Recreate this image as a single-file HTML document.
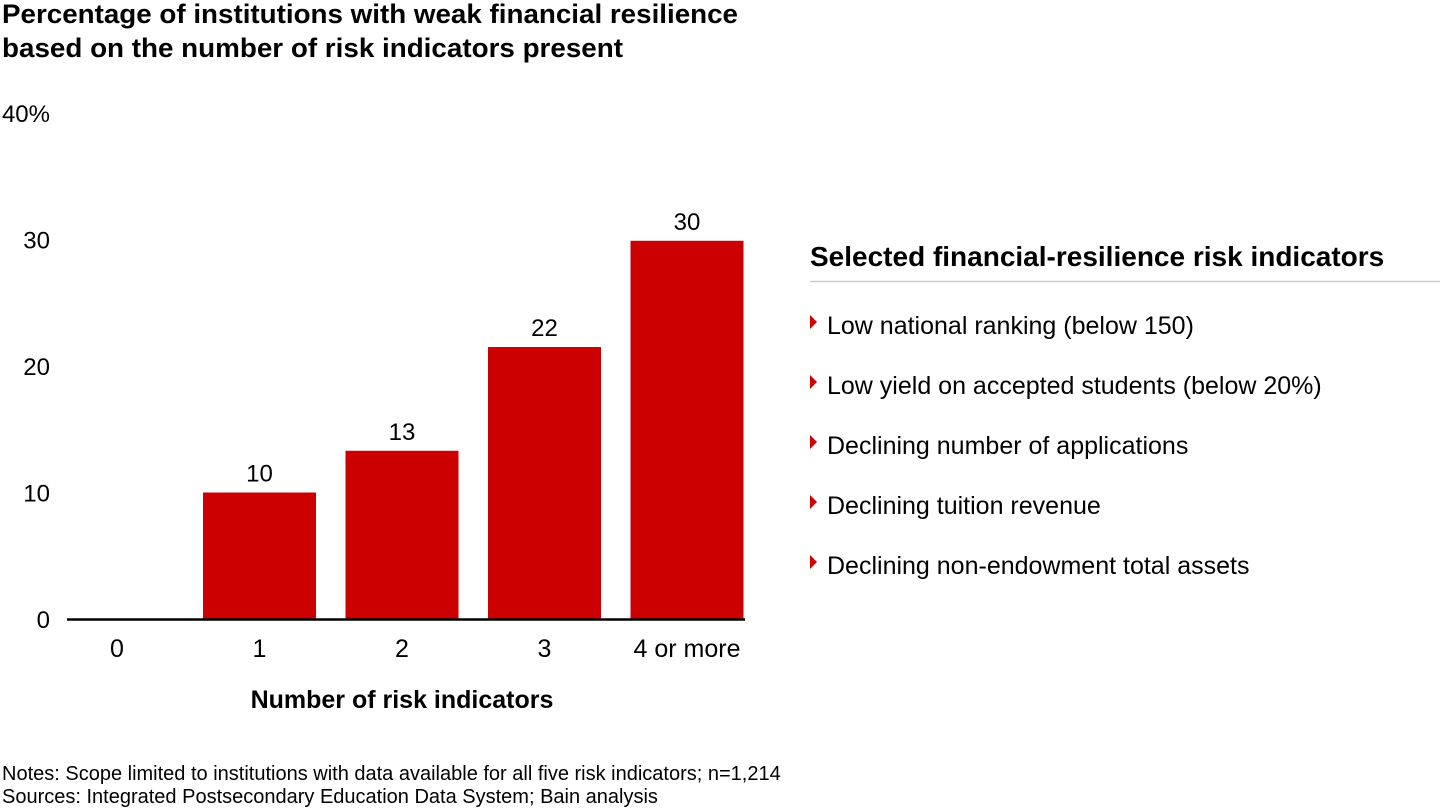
<!DOCTYPE html>
<html><head><meta charset="utf-8"><style>
html,body{margin:0;padding:0;background:#fff;width:1440px;height:810px;overflow:hidden;font-family:"Liberation Sans",Arial,sans-serif;color:#000}
</style></head><body>
<svg width="1440" height="810" xmlns="http://www.w3.org/2000/svg" font-family="Liberation Sans, Arial, sans-serif">
<text x="2" y="23" font-size="27" font-weight="bold" textLength="736" lengthAdjust="spacingAndGlyphs">Percentage of institutions with weak financial resilience</text>
<text x="2" y="57" font-size="27" font-weight="bold" textLength="621" lengthAdjust="spacingAndGlyphs">based on the number of risk indicators present</text>
<g id="yticks"></g>
<g id="bars"></g>
<line x1="67" x2="745" y1="619.5" y2="619.5" stroke="#000" stroke-width="2.5"/>
<text x="402" y="708" font-size="25" font-weight="bold" text-anchor="middle">Number of risk indicators</text>
<g>
<text x="810" y="266" font-size="28" font-weight="bold">Selected financial-resilience risk indicators</text>
<line x1="810" x2="1440" y1="281.5" y2="281.5" stroke="#ccc" stroke-width="1.5"/>
<g id="legend-items"></g>
</g>
<text x="2" y="780" font-size="20">Notes: Scope limited to institutions with data available for all five risk indicators; n=1,214</text>
<text x="2" y="803" font-size="20">Sources: Integrated Postsecondary Education Data System; Bain analysis</text>
</svg>
<script>
const categories = ["0","1","2","3","4 or more"];
const values = [0, 10, 13.3, 21.5, 29.9];
const valueLabels = ["", "10", "13", "22", "30"];
const yTicks = [0, 10, 20, 30, 40];
const yTickLabels = ["0","10","20","30","40%"];
const legendItems = ["Low national ranking (below 150)","Low yield on accepted students (below 20%)","Declining number of applications","Declining tuition revenue","Declining non-endowment total assets"];

const NS = "http://www.w3.org/2000/svg";
const y0 = 619, pxPerUnit = 12.65;
function yScale(v){ return y0 - v * pxPerUnit; }
const x0 = 117, step = 142.5, barW = 113;
function xScale(i){ return x0 + i * step; }
function mk(tag, attrs, parent, text){
  const e = document.createElementNS(NS, tag);
  for (const k in attrs) e.setAttribute(k, attrs[k]);
  if (text !== undefined) e.textContent = text;
  parent.appendChild(e);
  return e;
}
const yg = document.getElementById('yticks');
yTicks.forEach((t, i) => {
  const el = mk('text', {x: 50, y: yScale(t) + 9, 'font-size': 24, 'text-anchor': 'end'}, yg, yTickLabels[i]);
  
  
});
const bg = document.getElementById('bars');
categories.forEach((c, i) => {
  const cx = xScale(i);
  if (values[i] > 0) {
    const r = mk('rect', {x: cx - barW/2, y: yScale(values[i]), width: barW, height: y0 - yScale(values[i]), fill: '#cc0000'}, bg);
    
    
    const l = mk('text', {x: cx, y: yScale(values[i]) - 11, 'font-size': 24, 'text-anchor': 'middle'}, bg, valueLabels[i]);
    
    
  }
  const xl = mk('text', {x: cx, y: 657, 'font-size': 25, 'text-anchor': 'middle'}, bg, c);
  
  
});
const lg = document.getElementById('legend-items');
legendItems.forEach((t, i) => {
  const y = 325 + i * 60;
  const tri = mk('polygon', {points: `810,${y-10} 817,${y-3} 810,${y+4}`, fill: '#cc0000'}, lg);
  
  
  const tx = mk('text', {x: 827, y: y + 9, 'font-size': 25}, lg, t);
  
  
});
</script>
</body></html>
